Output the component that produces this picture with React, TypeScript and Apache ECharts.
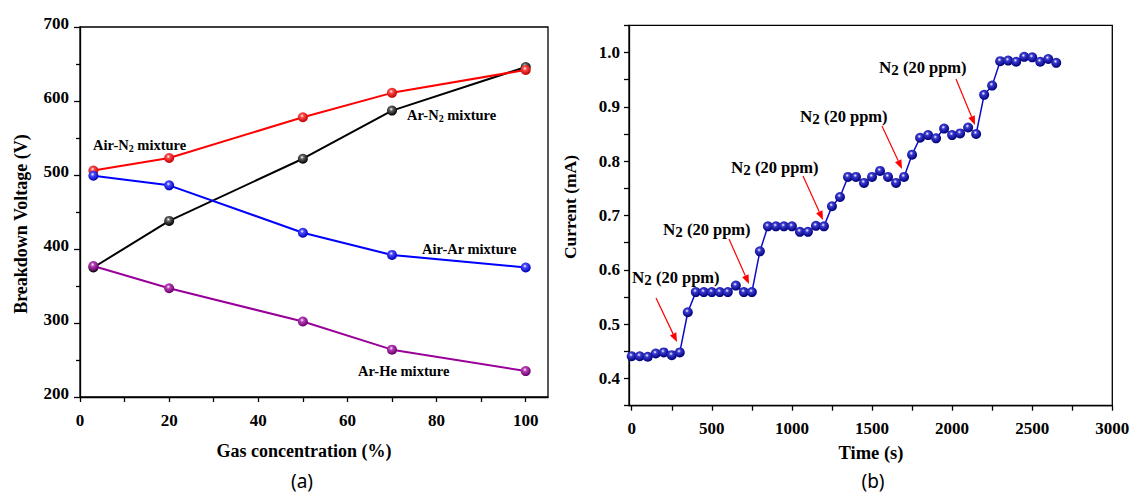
import React, { useEffect, useRef } from "react";
import * as echarts from "echarts";

// ---------- Data: panel (a) ----------
const concentration = [3, 20, 50, 70, 100];
const arN2 = [375, 438, 522, 587, 646];
const airN2 = [506, 523, 578, 611, 642];
const airAr = [499, 486, 422, 392, 375];
const arHe = [377, 347, 302, 264, 235];
const leftXTicks = [0, 10, 20, 30, 40, 50, 60, 70, 80, 90, 100];
const leftXLabels = [0, 20, 40, 60, 80, 100];

// ---------- Data: panel (b) ----------
const time = [
  0, 50, 100, 150, 200, 250, 300, 350, 400, 450, 500, 550, 600, 650, 700, 750,
  800, 850, 900, 950, 1000, 1050, 1100, 1150, 1200, 1250, 1300, 1350, 1400,
  1450, 1500, 1550, 1600, 1650, 1700, 1750, 1800, 1850, 1900, 1950, 2000, 2050,
  2100, 2150, 2200, 2250, 2300, 2350, 2400, 2450, 2500, 2550, 2600, 2650,
];
const current = [
  0.441, 0.441, 0.44, 0.446, 0.448, 0.443, 0.448,
  0.522,
  0.559, 0.559, 0.559, 0.559, 0.559, 0.571, 0.559, 0.559,
  0.634,
  0.68, 0.68, 0.68, 0.68, 0.67, 0.67, 0.681, 0.68,
  0.717, 0.734,
  0.771, 0.771, 0.76, 0.771, 0.782, 0.771, 0.76, 0.771,
  0.812,
  0.843, 0.848, 0.842, 0.86, 0.848, 0.851, 0.862, 0.85,
  0.922, 0.939,
  0.984, 0.985, 0.983, 0.992, 0.991, 0.983, 0.988, 0.981,
];
const rightXTicks = [0, 250, 500, 750, 1000, 1250, 1500, 1750, 2000, 2250, 2500, 2750, 3000];
const rightXLabels = [0, 500, 1000, 1500, 2000, 2500, 3000];
const rightYTicks = [0.35, 0.4, 0.45, 0.5, 0.55, 0.6, 0.65, 0.7, 0.75, 0.8, 0.85, 0.9, 0.95, 1.0, 1.05];
const rightYLabels = [0.4, 0.5, 0.6, 0.7, 0.8, 0.9, 1.0];

const SERIF = "Liberation Serif";

function sphere(mid: string, dark: string) {
  return new echarts.graphic.RadialGradient(0.42, 0.36, 0.62, [
    { offset: 0, color: "#ffffff" },
    { offset: 0.3, color: mid },
    { offset: 1, color: dark },
  ]);
}

function arrow(x1: number, y1: number, x2: number, y2: number) {
  const dx = x2 - x1;
  const dy = y2 - y1;
  const len = Math.sqrt(dx * dx + dy * dy);
  const ux = dx / len;
  const uy = dy / len;
  const hl = 9;
  const hw = 3.5;
  const bx = x2 - ux * hl;
  const by = y2 - uy * hl;
  return [
    {
      type: "line",
      shape: { x1, y1, x2: bx, y2: by },
      style: { stroke: "#ff0000", lineWidth: 1.2 },
      silent: true,
    },
    {
      type: "polygon",
      shape: {
        points: [
          [x2, y2],
          [bx - uy * hw, by + ux * hw],
          [bx + uy * hw, by - ux * hw],
        ],
      },
      style: { fill: "#ff0000" },
      silent: true,
    },
  ];
}

const notesB = [
  { lx: 632, ly: 278, a: [656, 298, 677, 342] },
  { lx: 663, ly: 230, a: [729, 239, 749, 284] },
  { lx: 731, ly: 168, a: [803, 176, 823, 220] },
  { lx: 800, ly: 117, a: [882, 126, 902, 169] },
  { lx: 879, ly: 68, a: [956, 79, 975, 125] },
];

const boldSerif = { fontFamily: SERIF, fontWeight: "bold" as const };

function n2Label(x: number, y: number) {
  const base = { ...boldSerif, fill: "#000" };
  return {
    type: "text",
    x,
    y,
    silent: true,
    style: {
      text: "{n|N}{s|2}{t| (20 ppm)}",
      align: "left",
      verticalAlign: "middle",
      rich: {
        n: { ...base, fontSize: 17, lineHeight: 18, verticalAlign: "top" },
        s: { ...base, fontSize: 15, lineHeight: 15, padding: [8, 0, 0, 0], verticalAlign: "bottom" },
        t: { ...base, fontSize: 16.5, lineHeight: 18, verticalAlign: "top" },
      },
    },
  };
}

function mixLabel(x: number, y: number, a: string, sub: string, b: string) {
  const base = { ...boldSerif, fill: "#000" };
  const text = sub ? `{a|${a}}{s|${sub}}{a|${b}}` : `{a|${a}}`;
  return {
    type: "text",
    x,
    y,
    silent: true,
    style: {
      text,
      align: "left",
      verticalAlign: "middle",
      rich: {
        a: { ...base, fontSize: 14.5, lineHeight: 16, verticalAlign: "top" },
        s: { ...base, fontSize: 10, lineHeight: 10, padding: [10, 0, 0, 0], verticalAlign: "bottom" },
      },
    },
  };
}

function title(x: number, y: number, text: string, size: number, rot = 0) {
  return {
    type: "text",
    x,
    y,
    rotation: rot,
    silent: true,
    style: {
      text: `{t|${text}}`,
      align: "center",
      verticalAlign: "middle",
      rich: { t: { ...boldSerif, fontSize: size, fill: "#000" } },
    },
  };
}

function caption(x: number, y: number, text: string) {
  return {
    type: "text",
    x,
    y,
    silent: true,
    style: {
      text: `{c|${text}}`,
      align: "center",
      verticalAlign: "middle",
      rich: { c: { fontFamily: "Noto Sans", fontSize: 19, fill: "#000" } },
    },
  };
}

const axisLineStyle = { color: "#000", width: 1.3 };
const tickRich = (size: number) => ({ t: { ...boldSerif, fontSize: size, color: "#000" } });

export default function App() {
  const ref = useRef<HTMLDivElement>(null);

  useEffect(() => {
    if (!ref.current) return;
    const chart = echarts.init(ref.current, null, { renderer: "svg" });

    const leftSeries = [
      { name: "Ar-N2", vals: arN2, line: "#000000", mid: "#606060", dark: "#000000" },
      { name: "Air-N2", vals: airN2, line: "#ff0000", mid: "#ff4a4a", dark: "#c00000" },
      { name: "Air-Ar", vals: airAr, line: "#0000ff", mid: "#4a4aff", dark: "#0000b8" },
      { name: "Ar-He", vals: arHe, line: "#990099", mid: "#b840b8", dark: "#6a006a" },
    ].map((s) => ({
      type: "line",
      name: s.name,
      xAxisIndex: 0,
      yAxisIndex: 0,
      data: concentration.map((c, i) => [c, s.vals[i]]),
      symbol: "circle",
      symbolSize: 10,
      lineStyle: { color: s.line, width: 2 },
      itemStyle: { color: sphere(s.mid, s.dark) },
    }));

    const graphics: any[] = [
      title(21, 224, "Breakdown Voltage (V)", 18, Math.PI / 2),
      title(304, 451, "Gas concentration (%)", 18),
      title(570, 207, "Current (mA)", 17.5, Math.PI / 2),
      title(871, 453, "Time (s)", 18.5),
      caption(302, 481, "(a)"),
      caption(873, 481, "(b)"),
      mixLabel(93, 145, "Air-N", "2", " mixture"),
      mixLabel(407, 115, "Ar-N", "2", " mixture"),
      mixLabel(422, 249, "Air-Ar mixture", "", ""),
      mixLabel(358, 371, "Ar-He mixture", "", ""),
    ];
    notesB.forEach((n) => {
      graphics.push(n2Label(n.lx, n.ly));
      graphics.push(...arrow(n.a[0], n.a[1], n.a[2], n.a[3]));
    });

    chart.setOption({
      animation: false,
      backgroundColor: "#ffffff",
      grid: [
        { left: 80, top: 27, width: 468, height: 370, show: true, borderColor: "#000", borderWidth: 1.3, backgroundColor: "transparent" },
        { left: 629, top: 25.3, width: 483.3, height: 380.4, show: true, borderColor: "#000", borderWidth: 1.3, backgroundColor: "transparent" },
      ],
      xAxis: [
        {
          type: "value",
          gridIndex: 0,
          min: 0,
          max: 105,
          axisLine: { onZero: false, lineStyle: axisLineStyle },
          axisTick: { customValues: leftXTicks, length: 5, lineStyle: axisLineStyle },
          axisLabel: {
            customValues: leftXLabels,
            margin: 15,
            formatter: (v: number) => `{t|${String(v)}}`,
            rich: tickRich(17),
          },
          splitLine: { show: false },
        },
        {
          type: "value",
          gridIndex: 1,
          min: -17,
          max: 3000,
          axisLine: { onZero: false, lineStyle: axisLineStyle },
          axisTick: { customValues: rightXTicks, length: 5, lineStyle: axisLineStyle },
          axisLabel: {
            customValues: rightXLabels,
            margin: 14,
            formatter: (v: number) => `{t|${String(v)}}`,
            rich: tickRich(17),
          },
          splitLine: { show: false },
        },
      ],
      yAxis: [
        {
          type: "value",
          gridIndex: 0,
          min: 200,
          max: 700,
          interval: 100,
          axisLine: { onZero: false, lineStyle: axisLineStyle },
          axisTick: { length: 6, lineStyle: axisLineStyle },
          minorTick: { show: true, splitNumber: 2, length: 4, lineStyle: axisLineStyle },
          axisLabel: {
            margin: 11,
            padding: [0, 0, 8, 0],
            formatter: (v: number) => `{t|${String(v)}}`,
            rich: tickRich(17),
          },
          splitLine: { show: false },
          minorSplitLine: { show: false },
        },
        {
          type: "value",
          gridIndex: 1,
          min: 0.35,
          max: 1.05,
          axisLine: { onZero: false, lineStyle: axisLineStyle },
          axisTick: { customValues: rightYTicks, length: 5, lineStyle: axisLineStyle },
          axisLabel: {
            customValues: rightYLabels,
            margin: 9,
            formatter: (v: number) => `{t|${v.toFixed(1)}}`,
            rich: tickRich(17),
          },
          splitLine: { show: false },
        },
      ],
      series: [
        ...leftSeries,
        {
          type: "line",
          name: "Current",
          xAxisIndex: 1,
          yAxisIndex: 1,
          data: time.map((t, i) => [t, current[i]]),
          symbol: "circle",
          symbolSize: 10,
          lineStyle: { color: "#0a0ac8", width: 1.5 },
          itemStyle: { color: sphere("#3a3ad0", "#00007a") },
        },
      ],
      graphic: { elements: graphics },
    });

    return () => chart.dispose();
  }, []);

  return (
    <div
      ref={ref}
      style={{ position: "absolute", left: 0, top: 0, width: 1136, height: 493, background: "#fff" }}
    />
  );
}
